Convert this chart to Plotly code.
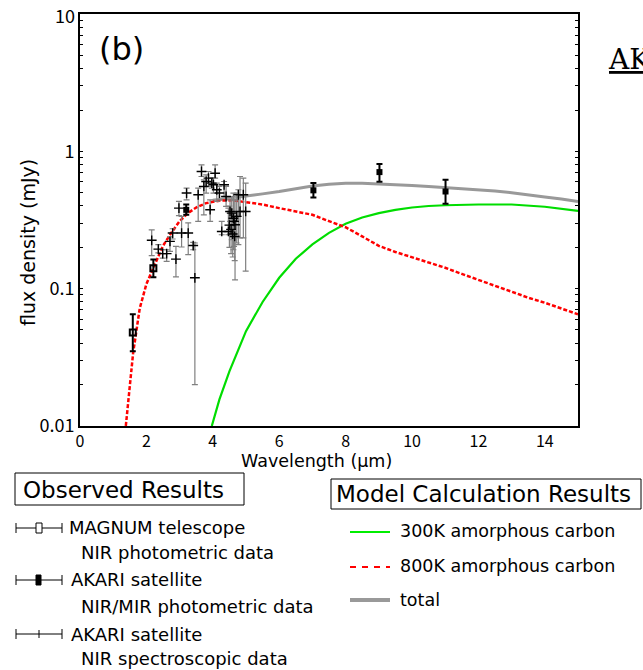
import plotly.graph_objects as go

# ---------------- data ----------------
# model curves
green_x = [3.97, 4.2, 4.5, 5.0, 5.5, 6.0, 6.5, 7.0, 7.5, 8.0, 8.5, 9.0, 9.5, 10.0,
           10.5, 11.0, 12.0, 12.5, 13.0, 14.0, 15.0]
green_y = [0.010, 0.0156, 0.025, 0.049, 0.080, 0.12, 0.165, 0.21, 0.255, 0.297, 0.33,
           0.355, 0.375, 0.39, 0.40, 0.405, 0.41, 0.412, 0.41, 0.395, 0.368]

red_x = [1.38, 1.5, 1.6, 1.8, 2.0, 2.2, 2.5, 2.75, 3.0, 3.25, 3.5, 3.8, 4.2, 4.6, 5.0,
         5.5, 6.0, 6.5, 7.0, 7.5, 8.0, 8.5, 9.0, 9.5, 10.0, 10.5, 11.0, 11.5, 12.0,
         12.5, 13.0, 13.5, 14.0, 14.5, 15.0]
red_y = [0.010, 0.021, 0.034, 0.072, 0.108, 0.14, 0.205, 0.255, 0.31, 0.355, 0.39,
         0.42, 0.437, 0.44, 0.428, 0.41, 0.386, 0.366, 0.345, 0.31, 0.28, 0.24, 0.205,
         0.185, 0.17, 0.155, 0.142, 0.128, 0.116, 0.104, 0.095, 0.086, 0.079, 0.072, 0.065]

total_x = [4.0, 4.5, 5.0, 5.5, 6.0, 6.5, 7.0, 7.5, 8.0, 8.5, 9.0, 9.5, 10.0, 10.5,
           11.0, 11.5, 12.0, 12.5, 13.0, 13.5, 14.0, 14.5, 15.0]
total_y = [0.44, 0.455, 0.47, 0.49, 0.51, 0.535, 0.56, 0.575, 0.585, 0.585, 0.58,
           0.575, 0.565, 0.555, 0.545, 0.535, 0.525, 0.515, 0.50, 0.485, 0.465, 0.45, 0.432]

# MAGNUM NIR photometric data
mag_x = [1.59, 2.21]
mag_y = [0.048, 0.141]
mag_up = [0.065, 0.163]
mag_lo = [0.035, 0.121]

# AKARI NIR/MIR photometric data
ak_x = [3.2, 7.03, 9.02, 11.01]
ak_y = [0.375, 0.52, 0.706, 0.51]
ak_up = [0.41, 0.587, 0.81, 0.62]
ak_lo = [0.345, 0.461, 0.60, 0.415]

# AKARI NIR spectroscopic data
sp_x = [2.16, 2.36, 2.49, 2.61, 2.71, 2.79, 2.89, 2.98, 3.06, 3.21, 3.26, 3.41, 3.46,
        3.56, 3.66, 3.73, 3.80, 3.87, 3.92, 3.97, 4.02, 4.07, 4.12, 4.20, 4.27, 4.34,
        4.40, 4.47, 4.52, 4.57, 4.62, 4.64, 4.67, 4.72, 4.77, 4.82, 4.92, 4.99,
        4.50, 4.55, 4.60, 4.66]
sp_y = [0.225, 0.194, 0.18, 0.18, 0.221, 0.254, 0.164, 0.386, 0.254, 0.497, 0.254,
        0.206, 0.12, 0.483, 0.713, 0.555, 0.603, 0.638, 0.376, 0.587, 0.571, 0.693,
        0.525, 0.497, 0.261, 0.571, 0.469, 0.261, 0.365, 0.355, 0.326, 0.309, 0.292,
        0.336, 0.483, 0.365, 0.483, 0.365, 0.29, 0.27, 0.25, 0.24]
sp_up = [0.268, 0.209, 0.192, 0.192, 0.238, 0.273, 0.203, 0.432, 0.336, 0.54, 0.301,
         0.217, 0.215, 0.54, 0.797, 0.621, 0.675, 0.713, 0.443, 0.638, 0.638, 0.797,
         0.587, 0.555, 0.309, 0.603, 0.555, 0.386, 0.443, 0.469, 0.497, 0.443, 0.443,
         0.497, 0.525, 0.656, 0.638, 0.587, 0.40, 0.38, 0.36, 0.34]
sp_lo = [0.174, 0.182, 0.167, 0.158, 0.187, 0.23, 0.122, 0.34, 0.201, 0.443, 0.177,
         0.192, 0.020, 0.309, 0.656, 0.345, 0.497, 0.555, 0.309, 0.54, 0.497, 0.638,
         0.432, 0.443, 0.247, 0.469, 0.397, 0.247, 0.309, 0.227, 0.192, 0.203, 0.116,
         0.215, 0.209, 0.234, 0.234, 0.134, 0.20, 0.18, 0.17, 0.16]

y_major = [0.01, 0.1, 1, 10]
y_major_text = ["0.01", "0.1", "1", "10"]
x_ticks = [0, 2, 4, 6, 8, 10, 12, 14]

TICKFONT = "Noto Sans CJK JP"
FONT = "DejaVu Sans"


def err(y, up, lo):
    return [u - v for u, v in zip(up, y)], [v - l for v, l in zip(y, lo)]


fig = go.Figure()

fig.add_trace(go.Scatter(x=green_x, y=green_y, mode="lines",
                         line=dict(color="#00dd00", width=2.2), showlegend=False))
fig.add_trace(go.Scatter(x=total_x, y=total_y, mode="lines",
                         line=dict(color="#999999", width=3), showlegend=False))
fig.add_trace(go.Scatter(x=red_x, y=red_y, mode="lines",
                         line=dict(color="#ff0000", width=2.5, dash="4px,2px"),
                         showlegend=False))

eu, el = err(sp_y, sp_up, sp_lo)
fig.add_trace(go.Scatter(x=sp_x, y=sp_y, mode="markers",
                         marker=dict(symbol="cross-thin", size=7, color="black",
                                     line=dict(width=1.4, color="black")),
                         error_y=dict(type="data", symmetric=False, array=eu, arrayminus=el,
                                      color="#808080", thickness=1.2, width=3),
                         showlegend=False))

eu, el = err(mag_y, mag_up, mag_lo)
fig.add_trace(go.Scatter(x=mag_x, y=mag_y, mode="markers",
                         marker=dict(symbol="square-open", size=6, color="black",
                                     line=dict(width=2, color="black")),
                         error_y=dict(type="data", symmetric=False, array=eu, arrayminus=el,
                                      color="black", thickness=2, width=3),
                         showlegend=False))

eu, el = err(ak_y, ak_up, ak_lo)
fig.add_trace(go.Scatter(x=ak_x, y=ak_y, mode="markers",
                         marker=dict(symbol="square", size=6, color="black"),
                         error_y=dict(type="data", symmetric=False, array=eu, arrayminus=el,
                                      color="black", thickness=2, width=3),
                         showlegend=False))

# y tick positions: majors labelled, minors unlabelled (top "10" label drawn as annotation)
y_tickvals, y_ticktext = [], []
for d in [0.01, 0.1, 1]:
    for m in range(1, 10):
        v = round(d * m, 4)
        y_tickvals.append(v)
        y_ticktext.append(y_major_text[y_major.index(d)] if m == 1 else "")
y_tickvals.append(10)
y_ticktext.append("")

L, R, T, B = 80, 578, 14, 426
W, H = 643, 670

fig.update_layout(
    width=W, height=H,
    margin=dict(l=L, r=W - R, t=T, b=H - B),
    paper_bgcolor="white", plot_bgcolor="white",
    font=dict(family=FONT, color="black"),
    xaxis=dict(range=[0, 15], tickvals=x_ticks, ticks="", showgrid=False, zeroline=False,
               showline=True, linecolor="black", linewidth=1.6, mirror=True,
               tickfont=dict(size=16, family=TICKFONT)),
    yaxis=dict(type="log", range=[-2.0002, 1.0002], tickvals=y_tickvals, ticktext=y_ticktext,
               ticks="inside", ticklen=3, tickcolor="black", showgrid=False, zeroline=False,
               showline=True, linecolor="black", linewidth=1.6, mirror="ticks",
               tickfont=dict(size=18, family=TICKFONT)),
)


def P(px, py):
    return (px - L) / (R - L), (B - py) / (B - T)


ann = []
shapes = []


def text(px, py, s, size, xanchor="left", angle=0, family=FONT):
    x, y = P(px, py)
    ann.append(dict(x=x, y=y, xref="paper", yref="paper", text=s, showarrow=False,
                    xanchor=xanchor, yanchor="middle", textangle=angle,
                    font=dict(size=size, family=family, color="black")))


def line(x0, y0, x1, y1, color="black", width=1, dash="solid"):
    a, b = P(x0, y0)
    c, d = P(x1, y1)
    shapes.append(dict(type="line", xref="paper", yref="paper", x0=a, y0=b, x1=c, y1=d,
                       line=dict(color=color, width=width, dash=dash)))


def rect(x0, y0, x1, y1, fill=None, width=1):
    a, b = P(x0, y0)
    c, d = P(x1, y1)
    shapes.append(dict(type="rect", xref="paper", yref="paper", x0=a, y0=b, x1=c, y1=d,
                       line=dict(color="black", width=width),
                       fillcolor=fill if fill else "rgba(0,0,0,0)"))


# top y tick label
text(77, 15, y_major_text[-1], 18, xanchor="right", family=TICKFONT)

# axis titles and panel label
text(316, 461, "Wavelength (μm)", 17.5, xanchor="center")
text(28, 243, "flux density (mJy)", 19, xanchor="center", angle=-90)
text(97, 49, "(b)", 32)
text(606, 60, "<u>AKARI</u>", 28, family="DejaVu Serif")

# Observed results legend
rect(15, 473, 244, 505)
text(21, 490, "Observed Results", 23)
for yy, kind in [(528, "open"), (580, "fill"), (634, "tick")]:
    line(16, yy, 62, yy)
    line(16, yy - 5, 16, yy + 5)
    line(62, yy - 5, 62, yy + 5)
    if kind == "open":
        rect(36, yy - 5, 42, yy + 5, fill="white")
    elif kind == "fill":
        rect(36, yy - 5, 41, yy + 5, fill="black")
    else:
        line(39, yy - 4, 39, yy + 4)
text(67, 527, "MAGNUM telescope", 18)
text(79, 552, "NIR photometric data", 18)
text(69, 579, "AKARI satellite", 18)
text(79, 606, "NIR/MIR photometric data", 18)
text(69, 634, "AKARI satellite", 18)
text(79, 658, "NIR spectroscopic data", 18)

# Model calculation legend
rect(331, 479, 641, 509)
text(334, 494, "Model Calculation Results", 23)
line(350, 532, 390, 532, color="#00ee00", width=2)
line(350, 567, 390, 567, color="#ff0000", width=2, dash="6px,6px")
line(350, 600, 390, 600, color="#999999", width=4)
text(398, 531, "300K amorphous carbon", 17.5)
text(398, 566, "800K amorphous carbon", 17.5)
text(398, 600, "total", 17.5)

fig.update_layout(annotations=ann, shapes=shapes)
fig.write_html("out.html")
